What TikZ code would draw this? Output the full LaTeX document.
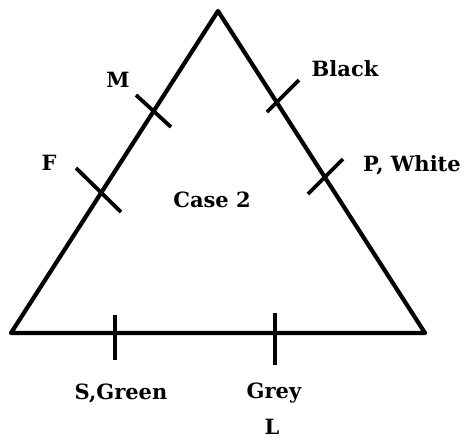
\documentclass[tikz,border=0pt]{standalone}
\usepackage{fontspec}
\setmainfont{DejaVu Serif}
\usetikzlibrary{positioning}
\tikzset{
  side/.style={line width=4.2pt, line join=round, line cap=round},
  tickmark/.style={line width=3.8pt},
  lbl/.style={font=\bfseries\fontsize{21}{23}\selectfont, inner sep=0pt}
}

\begin{document}
\begin{tikzpicture}[x=1pt, y=-1pt]
  \useasboundingbox (0,0) rectangle (468,440);
  \coordinate (top) at (218,11);
  \coordinate (bl) at (11,333);
  \coordinate (br) at (425,333);
  \draw[side] (top) -- (br) -- (bl) -- cycle;

  % tick marks
  \coordinate (mA) at (136,95);  \coordinate (mB) at (171,127);
  \coordinate (fA) at (76,168);  \coordinate (fB) at (121,212);
  \coordinate (kA) at (267,112); \coordinate (kB) at (299,80);
  \coordinate (pA) at (308,194); \coordinate (pB) at (343,159);
  \coordinate (sA) at (115,315); \coordinate (sB) at (115,360);
  \coordinate (gA) at (275,313); \coordinate (gB) at (275,365);
  \foreach \t in {m,f,k,p,s,g}
    \draw[tickmark] (\t A) -- (\t B);

  \node[lbl] (lM) at (118,80) {M};
  \node[lbl] (lF) at (49,163) {F};
  \node[lbl] (lBlack) at (345,69) {Black};
  \node[lbl] (lP) at (412,165) {P, White};
  \node[lbl] (lcase) at (212,200) {Case 2};
  \node[lbl] (lS) at (121,393) {S,Green};
  \node[lbl] (lGrey) at (274,393) {Grey};
  \node[lbl] (lL) at (272,427) {L};
\end{tikzpicture}
\end{document}
